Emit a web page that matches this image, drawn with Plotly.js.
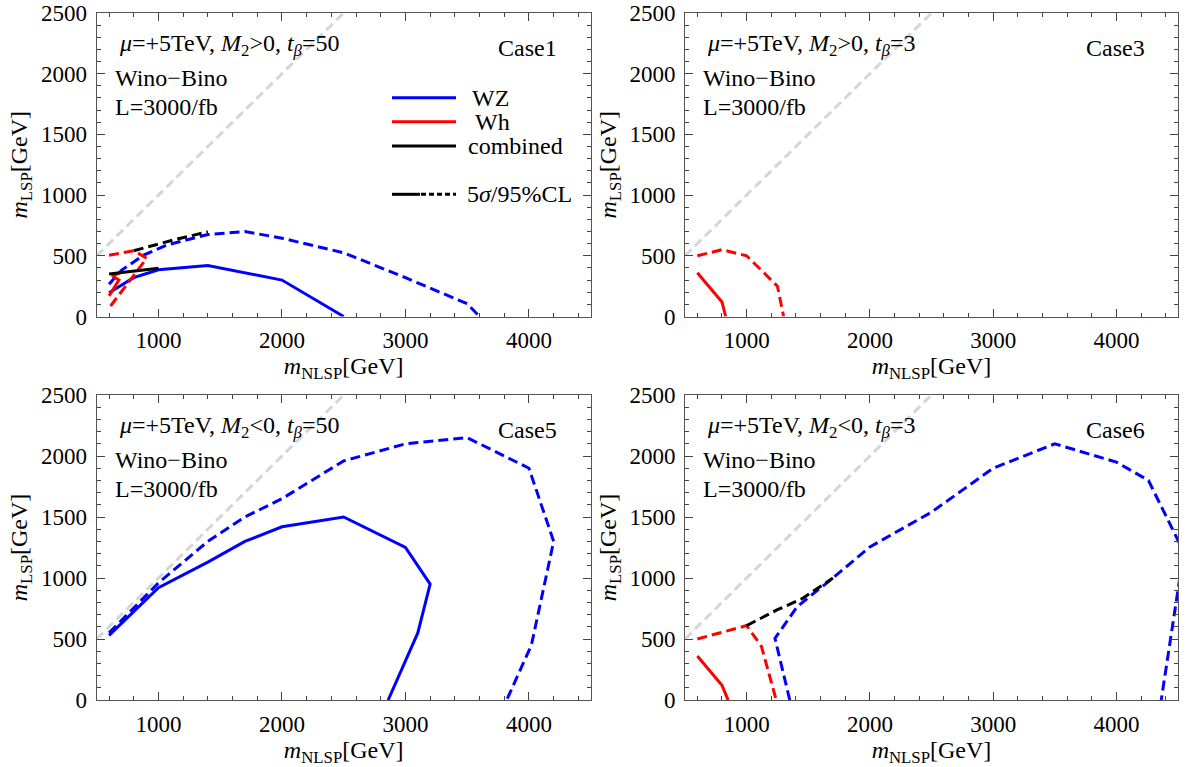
<!DOCTYPE html>
<html>
<head>
<meta charset="utf-8">
<script src="https://cdn.plot.ly/plotly-3.0.1.min.js"></script>
<style>html,body{margin:0;padding:0;background:#fff;}#plot{width:1187px;height:767px;}</style>
</head>
<body>
<div id="plot"></div>
<script>
// ---------- data (GeV) ----------
const diagX = [500, 2500];
const diagY = [500, 2500];

// Case 1
const c1_wz5_x = [600, 800, 1000, 1400, 2000, 2500];
const c1_wz5_y = [195, 320, 385, 420, 300, 0];
const c1_wz95_x = [600, 700, 880, 1070, 1400, 1700, 2000, 2500, 3000, 3500, 3600];
const c1_wz95_y = [265, 380, 505, 590, 675, 700, 645, 525, 320, 105, 0];
const c1_wh5_x = [600, 680, 625, 690];
const c1_wh5_y = [170, 300, 335, 360];
const c1_wh95_x = [600, 800, 905, 770, 600];
const c1_wh95_y = [505, 542, 480, 300, 70];
const c1_cb5_x = [600, 1000];
const c1_cb5_y = [350, 397];
const c1_cb95_x = [800, 1120, 1400];
const c1_cb95_y = [542, 630, 698];

// Case 3
const c3_wh5_x = [600, 800, 830];
const c3_wh5_y = [360, 120, 0];
const c3_wh95_x = [600, 800, 1000, 1250, 1300];
const c3_wh95_y = [500, 550, 500, 250, 0];

// Case 5
const c5_wz5_x = [600, 1000, 1400, 1700, 2000, 2500, 3000, 3200, 3100, 2860];
const c5_wz5_y = [530, 920, 1130, 1300, 1420, 1500, 1250, 950, 550, 0];
const c5_wz95_x = [600, 1000, 1400, 1700, 2000, 2500, 3000, 3500, 4000, 4200, 4020, 3820];
const c5_wz95_y = [550, 960, 1300, 1500, 1650, 1960, 2100, 2150, 1900, 1300, 450, 0];

// Case 6
const c6_wh5_x = [600, 800, 850];
const c6_wh5_y = [360, 120, 0];
const c6_wh95_x = [600, 1000, 1120, 1240];
const c6_wh95_y = [500, 610, 440, 0];
const c6_wz95_x = [1350, 1230, 1410, 1700, 2000, 2500, 3000, 3500, 4000, 4260, 4547, 4364];
const c6_wz95_y = [0, 505, 765, 1000, 1255, 1540, 1900, 2100, 1950, 1800, 1213, 0];
const c6_cb95_x = [1000, 1250, 1450, 1700];
const c6_cb95_y = [610, 740, 830, 1000];

const caseLabels = ['Case1', 'Case3', 'Case5', 'Case6'];
const paramLabels = [
  '<i>μ</i>=+5TeV, <i>M</i><sub>2</sub>&gt;0, <i>t</i><sub><i>β</i></sub>=50',
  '<i>μ</i>=+5TeV, <i>M</i><sub>2</sub>&gt;0, <i>t</i><sub><i>β</i></sub>=3',
  '<i>μ</i>=+5TeV, <i>M</i><sub>2</sub>&lt;0, <i>t</i><sub><i>β</i></sub>=50',
  '<i>μ</i>=+5TeV, <i>M</i><sub>2</sub>&lt;0, <i>t</i><sub><i>β</i></sub>=3'
];
const legendNames = ['WZ', 'Wh', 'combined', '5<i>σ</i>/95%CL'];

// ---------- styling ----------
const BLUE = '#0000ff', RED = '#ff0000', BLACK = '#000000', GRAY = '#d6d6d6';
const DASH = '10px,5px';
const FONT = 'Liberation Serif';
const W = 1187, H = 767;

function tr(x, y, color, dashed, ax) {
  return {x: x, y: y, type: 'scatter', mode: 'lines', xaxis: 'x' + ax, yaxis: 'y' + ax,
    line: {color: color, width: 3, dash: dashed ? DASH : 'solid'}, hoverinfo: 'skip', showlegend: false};
}
function diag(ax) {
  return {x: diagX, y: diagY, type: 'scatter', mode: 'lines', xaxis: 'x' + ax, yaxis: 'y' + ax,
    line: {color: GRAY, width: 3, dash: '9px,5px'}, hoverinfo: 'skip', showlegend: false};
}

const data = [
  diag(''), tr(c1_wz5_x, c1_wz5_y, BLUE, false, ''), tr(c1_wz95_x, c1_wz95_y, BLUE, true, ''),
  tr(c1_wh5_x, c1_wh5_y, RED, false, ''), tr(c1_wh95_x, c1_wh95_y, RED, true, ''),
  tr(c1_cb5_x, c1_cb5_y, BLACK, false, ''), tr(c1_cb95_x, c1_cb95_y, BLACK, true, ''),
  diag('2'), tr(c3_wh5_x, c3_wh5_y, RED, false, '2'), tr(c3_wh95_x, c3_wh95_y, RED, true, '2'),
  diag('3'), tr(c5_wz5_x, c5_wz5_y, BLUE, false, '3'), tr(c5_wz95_x, c5_wz95_y, BLUE, true, '3'),
  diag('4'), tr(c6_wz95_x, c6_wz95_y, BLUE, true, '4'),
  tr(c6_wh5_x, c6_wh5_y, RED, false, '4'), tr(c6_wh95_x, c6_wh95_y, RED, true, '4'),
  tr(c6_cb95_x, c6_cb95_y, BLACK, true, '4')
];

// panel frames in pixels
const colsPx = [[96.7, 590.7], [685, 1178]];
const rowsPx = [[13, 316.5], [395, 700]];
function px2x(p) { return p / W; }
function px2y(p) { return 1 - p / H; }

const tickFont = {family: FONT, size: 23, color: '#000'};
const titleFont = {family: FONT, size: 24, color: '#000'};
function xaxis(col, row, anchor) {
  return {domain: [px2x(colsPx[col][0]), px2x(colsPx[col][1])], anchor: anchor,
    range: [500, 4500], tick0: 0, dtick: 1000, ticks: 'inside', ticklen: 8, tickwidth: 1, tickcolor: '#444',
    minor: {tick0: 0, dtick: 200, ticks: 'inside', ticklen: 4, tickwidth: 1, tickcolor: '#444', showgrid: false},
    showline: true, mirror: 'ticks', linecolor: '#555', linewidth: 1, showgrid: false, zeroline: false,
    tickfont: tickFont, ticklabelstandoff: 3,
    title: {text: '<i>m</i><sub>NLSP</sub>[GeV]', font: titleFont, standoff: 4}, fixedrange: true};
}
function yaxis(col, row, anchor) {
  return {domain: [px2y(rowsPx[row][1]), px2y(rowsPx[row][0])], anchor: anchor,
    range: [0, 2500], tick0: 0, dtick: 500, ticks: 'inside', ticklen: 8, tickwidth: 1, tickcolor: '#444',
    minor: {tick0: 0, dtick: 100, ticks: 'inside', ticklen: 4, tickwidth: 1, tickcolor: '#444', showgrid: false},
    showline: true, mirror: 'ticks', linecolor: '#555', linewidth: 1, showgrid: false, zeroline: false,
    tickfont: tickFont, ticklabelstandoff: 4,
    title: {text: '<i>m</i><sub>LSP</sub>[GeV]', font: titleFont, standoff: 6}, fixedrange: true};
}

const annotations = [];
const panels = [[0, 0], [1, 0], [0, 1], [1, 1]];
panels.forEach(function (p, i) {
  const x0 = colsPx[p[0]][0], y0 = rowsPx[p[1]][0];
  const base = {xref: 'paper', yref: 'paper', showarrow: false, xanchor: 'left', yanchor: 'middle', font: titleFont};
  annotations.push(Object.assign({}, base, {text: paramLabels[i], x: px2x(x0 + 20), y: px2y(y0 + 32)}));
  annotations.push(Object.assign({}, base, {text: 'Wino−Bino', x: px2x(x0 + 16), y: px2y(y0 + 65)}));
  annotations.push(Object.assign({}, base, {text: 'L=3000/fb', x: px2x(x0 + 16), y: px2y(y0 + 94)}));
  annotations.push(Object.assign({}, base, {text: caseLabels[i], x: px2x(x0 + 399), y: px2y(y0 + 35)}));
});

// legend (panel 1)
const legY = [97.7, 121.7, 146, 194.3];
const legTextX = [470, 473, 466, 465];
const legColors = [BLUE, RED, BLACK];
const shapes = [];
for (let i = 0; i < 3; i++) {
  shapes.push({type: 'line', xref: 'paper', yref: 'paper', x0: px2x(392), x1: px2x(456), y0: px2y(legY[i]), y1: px2y(legY[i]),
    line: {color: legColors[i], width: 3}});
}
shapes.push({type: 'line', xref: 'paper', yref: 'paper', x0: px2x(392), x1: px2x(420), y0: px2y(legY[3]), y1: px2y(legY[3]),
  line: {color: BLACK, width: 3}});
shapes.push({type: 'line', xref: 'paper', yref: 'paper', x0: px2x(421), x1: px2x(456), y0: px2y(legY[3]), y1: px2y(legY[3]),
  line: {color: BLACK, width: 3, dash: '5px,3px'}});
for (let i = 0; i < 4; i++) {
  annotations.push({xref: 'paper', yref: 'paper', showarrow: false, xanchor: 'left', yanchor: 'middle',
    font: titleFont, text: legendNames[i], x: px2x(legTextX[i]), y: px2y(legY[i])});
}

const layout = {
  width: W, height: H, margin: {l: 0, r: 0, t: 0, b: 0},
  paper_bgcolor: '#fff', plot_bgcolor: '#fff', showlegend: false,
  xaxis: xaxis(0, 0, 'y'), yaxis: yaxis(0, 0, 'x'),
  xaxis2: xaxis(1, 0, 'y2'), yaxis2: yaxis(1, 0, 'x2'),
  xaxis3: xaxis(0, 1, 'y3'), yaxis3: yaxis(0, 1, 'x3'),
  xaxis4: xaxis(1, 1, 'y4'), yaxis4: yaxis(1, 1, 'x4'),
  annotations: annotations, shapes: shapes
};

Plotly.newPlot('plot', data, layout, {displayModeBar: false, staticPlot: true});
</script>
</body>
</html>
